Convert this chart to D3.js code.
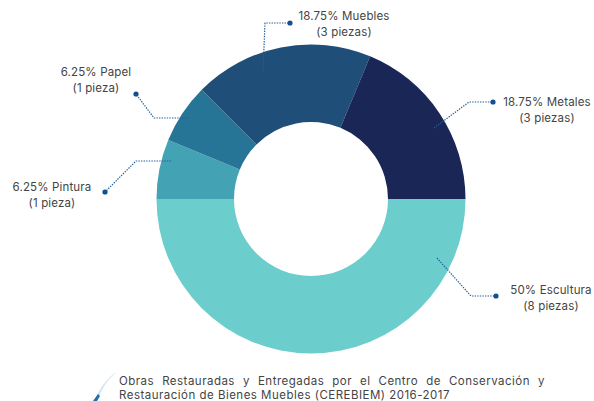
<!DOCTYPE html>
<html><head><meta charset="utf-8">
<script src="https://cdn.jsdelivr.net/npm/d3@7/dist/d3.min.js"></script>
<style>html,body{margin:0;padding:0;background:#fff}svg{display:block}text{font-family:Inter,"Open Sans",sans-serif;fill:#444}</style>
</head><body><svg id="c" width="594" height="401"></svg>
<script>
const categories = ["Escultura","Pintura","Papel","Muebles","Metales"];
const pieces = [8,1,1,3,3];
const percentLabels = ["50%","6.25%","6.25%","18.75%","18.75%"];
const pieceLabels = ["(8 piezas)","(1 pieza)","(1 pieza)","(3 piezas)","(3 piezas)"];
const colors = ["#6bcdcc","#44a2b5","#267597","#1f4e79","#1a2756"];
const captionLines = ["Obras Restauradas y Entregadas por el Centro de Conservación y","Restauración de Bienes Muebles (CEREBIEM) 2016-2017"];

const cx=311, cy=199, R=154.5, r=77;
const leaders = [
 [[437,258],[471,296],[496,296]],
 [[171,161],[136,161],[105,192]],
 [[189,118],[154,118],[136,94]],
 [[263,71],[265,23],[290,23]],
 [[434,128],[469,102],[493,102]]
];
const labelPos = [[551,294],[52,191],[96,76],[344,20],[547,106]];

const svg=d3.select("#c");
const g=svg.append("g").attr("transform",`translate(${cx},${cy})`);
const pie=d3.pie().sort(null).startAngle(Math.PI/2).endAngle(Math.PI*2.5);
const arc=d3.arc().innerRadius(r).outerRadius(R);
g.selectAll("path").data(pie(pieces)).join("path").attr("d",arc).attr("fill",(d,i)=>colors[i]);

const line=d3.line();
svg.selectAll("path.l").data(leaders).join("path").attr("class","l")
 .attr("d",line).attr("fill","none").attr("stroke","#1f5f9a").attr("stroke-width",1.2).attr("stroke-dasharray","1.4 1.2");
svg.selectAll("circle").data(leaders).join("circle")
 .attr("cx",d=>d[2][0]).attr("cy",d=>d[2][1]).attr("r",2.6).attr("fill","#12508f");

categories.forEach((c,i)=>{
 const t=svg.append("text").attr("text-anchor","middle").attr("font-size",11.5).attr("letter-spacing",0.15);
 t.append("tspan").attr("x",labelPos[i][0]).attr("y",labelPos[i][1]).text(percentLabels[i]+" "+c);
 t.append("tspan").attr("x",labelPos[i][0]).attr("y",labelPos[i][1]+15.5).text(pieceLabels[i]);
});

svg.append("path").attr("d","M115 373 C108 379 102 388 99 396 L97 397 C100 388 107 379 115 373Z").attr("fill","#cfe4f2").attr("stroke","#cfe4f2").attr("stroke-width",.5);
svg.append("path").attr("d","M98 394 L100 396 L97 401 L93 401Z").attr("fill","#1f6fb0");

// second line sets the natural tracking; first line is justified through its word gaps
const fit=(sel,w)=>{const n=sel.node();const len=n.getComputedTextLength();return (w-len);};
const cap2=svg.append("text").attr("x",119).attr("y",399).attr("font-size",11.5).text(captionLines[1]);
const ls=fit(cap2,331)/captionLines[1].length;
cap2.attr("letter-spacing",ls);
const cap1=svg.append("text").attr("x",119).attr("y",384.5).attr("font-size",11.5).attr("letter-spacing",ls).text(captionLines[0]);
const ws=fit(cap1,426)/(captionLines[0].split(" ").length-1);
cap1.attr("word-spacing",ws);
</script></body></html>
